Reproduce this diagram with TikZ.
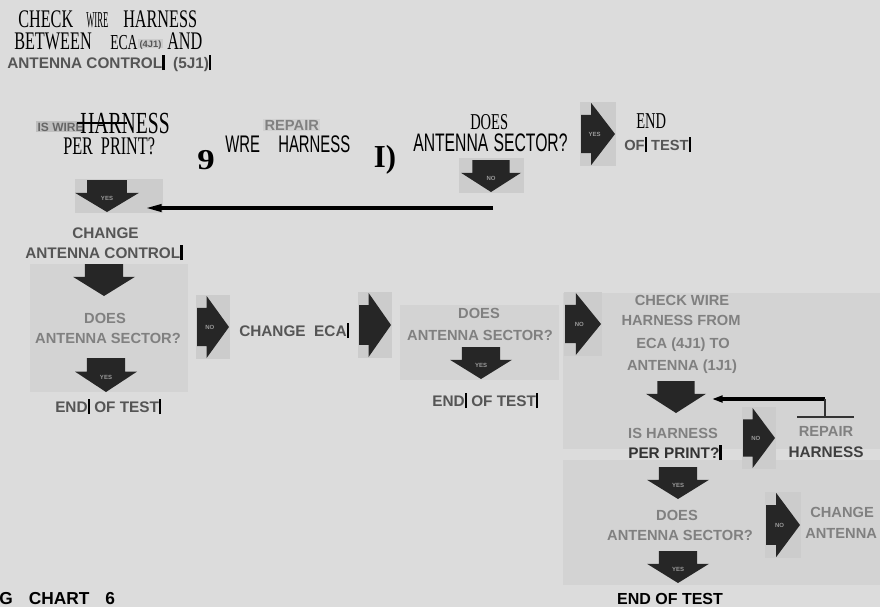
\documentclass[tikz,border=0pt]{standalone}
\usepackage{fontspec}
\usepackage{graphicx}
\setmainfont{Liberation Serif}
\setsansfont{Liberation Sans}
\newfontfamily\serc[FakeStretch=0.64]{Liberation Serif}
\newfontfamily\sanc[FakeStretch=0.62]{Liberation Sans}
\usetikzlibrary{arrows.meta}
\definecolor{bgc}{HTML}{DCDCDC}
\definecolor{panelc}{HTML}{D3D3D3}
\definecolor{aboxc}{HTML}{CCCCCC}
\definecolor{arrc}{HTML}{262626}
\definecolor{gtext}{HTML}{555555}
\definecolor{ptext}{HTML}{808080}
\definecolor{labc}{HTML}{9A9A9A}
\newcommand{\fsz}[1]{\fontsize{#1}{#1}\selectfont}
\newcommand{\scanbar}{{\color{black}\rule[-1.5pt]{1.8pt}{11pt}}}
\tikzset{
  txt/.style={inner sep=0pt, anchor=base west, text depth=0pt},
  ctxt/.style={inner sep=0pt, anchor=base, text depth=0pt},
  gs/.style={font={\sffamily\bfseries\fsz{11.5}}, text=gtext},
  ps/.style={font={\sffamily\bfseries\fsz{11}}, text=ptext},
  bs/.style={font={\sffamily\bfseries\fsz{12}}, text=black},
  arrlab/.style={inner sep=0pt, font={\sffamily\bfseries\fsz{4.5}}, text=labc},
  heavy/.style={line width=3pt, draw=black},
  thinl/.style={line width=1.2pt, draw=black!80},
  arrshape/.style={fill=arrc},
  arrbox/.style={fill=aboxc}
}
% down block arrow: name, cx, cy, half-width, half-height, label
\newcommand{\darrow}[6]{%
  \fill[arrshape] ({#2-0.62*#4},{#3-#5}) -- ({#2+0.62*#4},{#3-#5})
    -- ({#2+0.62*#4},{#3-0.2*#5}) -- ({#2+#4},{#3-0.2*#5}) -- (#2,{#3+#5})
    -- ({#2-#4},{#3-0.2*#5}) -- ({#2-0.62*#4},{#3-0.2*#5}) -- cycle;
  \node[arrlab] (#1) at (#2,{#3+0.15*#5}) {#6};}
% right block arrow with light box: name, cx, cy, half-width, half-height, label
\newcommand{\rarrow}[6]{%
  \fill[arrbox] ({#2-1.05*#4},{#3-1.02*#5}) rectangle ({#2+1.05*#4},{#3+1.02*#5});
  \fill[arrshape] ({#2-#4},{#3-0.62*#5}) -- ({#2-0.4*#4},{#3-0.62*#5})
    -- ({#2-0.4*#4},{#3-#5}) -- ({#2+#4},#3) -- ({#2-0.4*#4},{#3+#5})
    -- ({#2-0.4*#4},{#3+0.62*#5}) -- ({#2-#4},{#3+0.62*#5}) -- cycle;
  \node[arrlab] (#1) at ({#2-0.2*#4},#3) {#6};}
\begin{document}
\begin{tikzpicture}[x=0.75pt,y=-0.75pt]
\useasboundingbox (0,0) rectangle (880,607);
\clip (0,0) rectangle (880,607);
\fill[bgc] (0,0) rectangle (880,607);

% ---------- title ----------
\node[txt, font={\serc\fsz{19}}] (t1a) at (18,27) {CHECK};
\node[txt, font={\serc\fsz{17}}] (t1b) at (86,27) {\scalebox{0.6}[1]{WIRE}};
\node[txt, font={\serc\fsz{19}}] (t1c) at (123,27) {HARNESS};
\node[txt, font={\serc\fsz{19}}] (t2a) at (14,49) {BETWEEN};
\node[txt, font={\serc\fsz{16}}] (t2b) at (110,49) {ECA};
\node[txt, font={\sffamily\bfseries\fsz{7}}, text=gtext, fill=aboxc, inner sep=1pt] (t2c) at (138,47) {(4J1)};
\node[txt, font={\serc\fsz{19}}] (t2d) at (167,49) {AND};
\node[txt, gs] (t3) at (7,68) {ANTENNA CONTROL\scanbar\ \ (5J1)\scanbar};

% ---------- row 2 ----------
\node[txt, font={\sffamily\bfseries\fsz{9}}, text=black!60, fill=black!25, inner sep=1pt] (r2a) at (36,131) {IS WIRE};
\node[txt, font={\serc\fsz{23}}] (r2b) at (80,133) {HARNESS};
\draw[line width=1.2pt] (77,123) -- (127,123);
\node[txt, font={\serc\fsz{19}}] (r2c) at (63,154) {PER\hspace{6pt}PRINT?};
\node[font={\serc\fsz{24}}, inner sep=0pt] (r2d) at (206,160) {\scalebox{1.7}[0.9]{\bfseries 9}};
\node[txt, font={\sanc\fsz{18}}] (r2e) at (225,152) {WRE};
\node[txt, font={\sanc\fsz{18}}] (r2f) at (278,152) {HARNESS};
\node[txt, font={\sffamily\bfseries\fsz{11}}, text=black!50, fill=black!18, inner sep=1pt] (r2g) at (263,130) {REPAIR};
\node[font={\serc\fsz{24}}, inner sep=0pt] (r2h) at (385,160) {\scalebox{1.5}[1]{\bfseries I)}};
\node[txt, font={\serc\fsz{17}}] (r2i) at (470,129) {DOES};
\node[txt, font={\sanc\fsz{19}}] (r2j) at (413,151) {ANTENNA\hspace{4pt}SECTOR?};
\rarrow{A3}{598}{134}{17}{31}{YES}
\node[txt, font={\serc\fsz{17}}] (r2k) at (636,128) {END};
\node[txt, font={\sffamily\bfseries\fsz{11}}, text=gtext] (r2l) at (624,150) {OF\scanbar\ TEST\scanbar};

% down arrows of row 2
\fill[arrbox] (459,158) rectangle (524,193);
\darrow{A2}{491}{176}{30}{16}{NO}
\fill[arrbox] (75,179) rectangle (163,213);
\darrow{A1}{107}{196}{32}{16}{YES}

\coordinate (c0) at (143,208);
\coordinate (c1) at (493,208);
\draw[heavy, -{Triangle[length=14pt,width=5pt]}] (c1) -- (c0);

% ---------- row 3 ----------
\node[txt, gs] (r3a) at (72,238) {CHANGE};
\node[txt, gs] (r3b) at (25,258) {ANTENNA CONTROL\scanbar};
\fill[panelc] (30,264) rectangle (188,392);
\darrow{A4}{104}{280}{31}{16}{}
\node[ctxt, ps] (p1a) at (105,323) {DOES};
\node[ctxt, ps] (p1b) at (108,343) {ANTENNA SECTOR?};
\darrow{A5}{106}{375}{31}{17}{YES}
\node[txt, gs] (r3c) at (55,412) {END\scanbar\ OF TEST\scanbar};

\rarrow{A6}{213}{327}{16}{31}{NO}
\node[txt, gs] (r3d) at (239,336) {CHANGE\ \ ECA\scanbar};
\rarrow{A7}{375}{325}{16}{32}{}

\fill[panelc] (400,305) rectangle (559,380);
\node[ctxt, ps] (p2a) at (479,318) {DOES};
\node[ctxt, ps] (p2b) at (480,340) {ANTENNA SECTOR?};
\darrow{A8}{481}{363}{31}{16}{YES}
\node[txt, gs] (r3e) at (432,406) {END\scanbar\ OF TEST\scanbar};

% ---------- right panels ----------
\fill[panelc] (563,293) rectangle (880,449);
\rarrow{A9}{583}{324}{18}{31}{NO}
\node[ctxt, ps] (p3a) at (682,305) {CHECK WIRE};
\node[ctxt, ps] (p3b) at (681,325) {HARNESS FROM};
\node[ctxt, ps] (p3c) at (683,348) {ECA (4J1) TO};
\node[ctxt, ps] (p3d) at (682,370) {ANTENNA (1J1)};
\darrow{A10}{676}{397}{30}{16}{}
\coordinate (c2) at (712,399);
\coordinate (c3) at (825,399);
\coordinate (c4) at (825,417);
\coordinate (c5) at (797,417);
\coordinate (c6) at (854,417);
\draw[heavy, -{Triangle[length=8pt,width=5pt]}] (c3) -- (c2);
\draw[thinl] (c3) -- (c4);
\draw[thinl] (c5) -- (c6);
\node[ctxt, ps] (p3e) at (673,438) {IS HARNESS};
\node[ctxt, ps] (p3g) at (826,436) {REPAIR};

\fill[panelc] (563,460) rectangle (880,585);
\node[txt, font={\sffamily\bfseries\fsz{11.5}}, text=black!80] (p3f) at (628,458) {PER PRINT?\scanbar};
\node[ctxt, font={\sffamily\bfseries\fsz{11.5}}, text=black!75] (p3h) at (826,457) {HARNESS};
\rarrow{A11}{759}{438}{16}{30}{NO}
\darrow{A12}{678}{483}{31}{16}{YES}
\node[ctxt, ps] (p4a) at (677,520) {DOES};
\node[ctxt, ps] (p4b) at (680,540) {ANTENNA SECTOR?};
\rarrow{A13}{783}{525}{17}{32}{NO}
\node[txt, ps] (p4c) at (810,517) {CHANGE};
\node[txt, ps] (p4d) at (805,538) {ANTENNA};
\darrow{A14}{678}{567}{31}{16}{YES}

\node[ctxt, bs] (e4) at (670,604) {END OF TEST};
\node[txt, font={\sffamily\bfseries\fsz{13}}, text=black] (gc) at (-1,604) {G\hspace{12pt}CHART\hspace{12pt}6};
\end{tikzpicture}
\end{document}
